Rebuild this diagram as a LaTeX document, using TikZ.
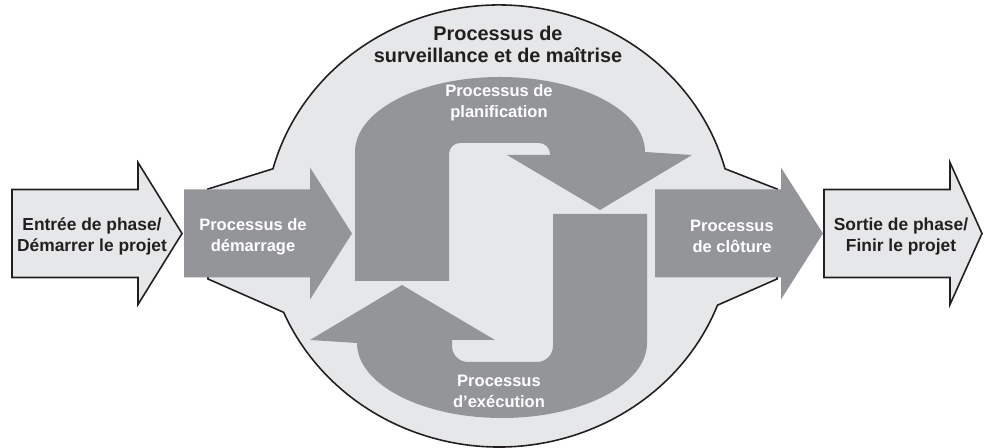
\documentclass[tikz,border=0pt]{standalone}
\usepackage{fontspec}
\setmainfont{Liberation Sans}
\definecolor{procgray}{HTML}{939598}
\definecolor{ringgray}{HTML}{E6E7E8}
\definecolor{inkblack}{HTML}{231F20}
% gray process arrow: start x, head length
\def\procarrow(#1,#2){\fill [procgray] (#1,170.5) -- ++(126,0) -- ++(0,-22) -- ++(#2,66) -- ++(-#2,66) -- ++(0,-22) -- ++(-126,0) -- cycle;}
% outlined phase arrow: start x, head length
\def\phasearrow(#1,#2){\filldraw [fill=ringgray,draw=inkblack,line width=0.9pt] (#1,170.5) -- ++(126,0) -- ++(0,-27) -- ++(#2,71) -- ++(-#2,71) -- ++(0,-27) -- ++(-126,0) -- cycle;}
% curved loop arrow of the cycle: options, inner edge height, corner radius
\def\loopshape#1#2#3{\fill [procgray,#1] (355,167) -- (355,296) arc [start angle=180,end angle=0,x radius=145,y radius=75]
  -- (692,293) -- (600,238) -- (507,293) -- (550,293) -- (550,#2-#3) arc [start angle=0,end angle=90,radius=#3]
  -- (449+#3,#2) arc [start angle=90,end angle=180,radius=#3] -- (449,167) -- cycle;}

\begin{document}
\begin{tikzpicture}[x=0.02cm,y=0.02cm,
  phase text/.style={text=inkblack,font=\bfseries\fontsize{9.9}{11.9}\selectfont,align=center,inner sep=0pt},
  proc text/.style={text=white,font=\bfseries\fontsize{9.4}{11.9}\selectfont,align=center,inner sep=0pt},
  title text/.style={text=inkblack,font=\bfseries\fontsize{11.3}{12.5}\selectfont,align=center,inner sep=0pt}]
\useasboundingbox (0,0) rectangle (985,448);
% monitoring area
\filldraw [fill=ringgray,draw=inkblack,line width=0.9pt] (208,259) -- (272.97,279.2)
  arc [start angle=165,end angle=15,x radius=234,y radius=221] -- (777,259) -- (777,169) -- (717.5,142.8)
  arc [start angle=-21,end angle=-157,x radius=234,y radius=221] -- (208,169) -- cycle;
\procarrow(184,42)
\procarrow(655,42)
\loopshape{}{305}{11}
\loopshape{rotate around={180:(501,200.5)}}{315}{16}
\phasearrow(12,44)
\phasearrow(824,32)
\node [title text] (surveillance) at (498,404) {Processus de\\surveillance et de maîtrise};
\node [phase text] (entree) at (92,211.5) {Entrée de phase/\\Démarrer le projet};
\node [proc text] (demarrage) at (253,211.5) {Processus de\\démarrage};
\node [proc text] (planif) at (499,345) {Processus de\\planification};
\node [proc text] (execution) at (499,57) {Processus\\d’exécution};
\node [proc text] (cloture) at (732,211.5) {Processus\\de clôture};
\node [phase text] (sortie) at (901,211.5) {Sortie de phase/\\Finir le projet};
\end{tikzpicture}
\end{document}
